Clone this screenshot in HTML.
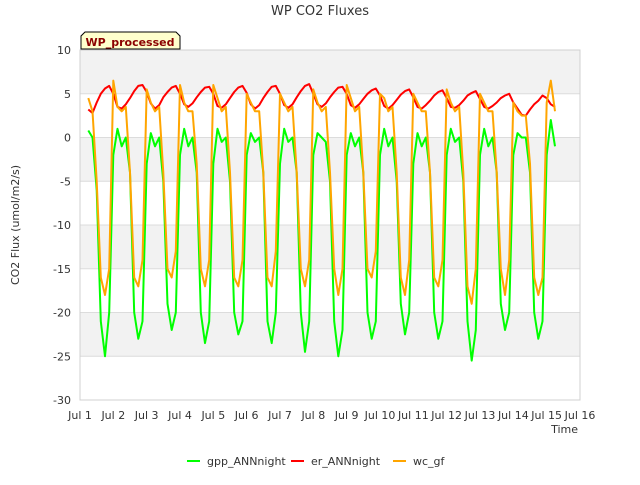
<!DOCTYPE html>
<html><head><meta charset="utf-8"><style>
body{margin:0;background:#fff;font-family:"Liberation Sans","DejaVu Sans",sans-serif;}
</style></head><body>
<svg id="chart" width="640" height="480" xmlns="http://www.w3.org/2000/svg" font-family="DejaVu Sans, Liberation Sans, sans-serif">
<rect width="640" height="480" fill="#fff"/>
<g id="bands"></g><g id="grid"></g><g id="series"></g><g id="axes"></g>
<text x="320" y="15" text-anchor="middle" font-size="13" fill="#333">WP CO2 Fluxes</text>
<text transform="translate(19,225) rotate(-90)" text-anchor="middle" font-size="11" fill="#333">CO2 Flux (umol/m2/s)</text>
<text x="578" y="433" text-anchor="end" font-size="11" fill="#333">Time</text>
<g>
<path d="M81,49 L81,36 L85,32 L176,32 L180,36 L180,49 Z" fill="#ffffcc" stroke="#000" stroke-width="1"/>
<text x="130" y="46" text-anchor="middle" font-size="11" font-weight="bold" fill="#8b0000">WP_processed</text>
</g>
<g>
<g><line x1="187" y1="461" x2="200" y2="461" stroke="#00ff00" stroke-width="2"/><text x="207" y="465" font-size="11" fill="#333">gpp_ANNnight</text></g>
<g><line x1="291" y1="461" x2="304" y2="461" stroke="#ff0000" stroke-width="2"/><text x="311" y="465" font-size="11" fill="#333">er_ANNnight</text></g>
<g><line x1="393" y1="461" x2="406" y2="461" stroke="#ffa500" stroke-width="2"/><text x="413" y="465" font-size="11" fill="#333">wc_gf</text></g>
</g>
</svg>
<script>
const startDay = 1.25;
const stepDay = 0.125;
const gpp = [
0.8,0,-6,-21,-25,-20,-2,1,
-1,0,-4,-20,-23,-21,-3,0.5,
-1,0,-5,-19,-22,-20,-2,1,
-1,0,-4,-20,-23.5,-21,-3,1,
-0.5,0,-5,-20,-22.5,-21,-2,0.5,
-0.5,0,-4,-21,-23.5,-20,-3,1,
-0.5,0,-4,-20,-24.5,-21,-2,0.5,
0,-0.5,-5,-21,-25,-22,-2,0.5,
-1,0,-4,-20,-23,-21,-2,1,
-1,0,-5,-19,-22.5,-20,-3,0.5,
-1,0,-4,-20,-23,-21,-2,1,
-0.5,0,-5,-21,-25.5,-22,-2,1,
-1,0,-4,-19,-22,-20,-2,0.5,
0,0,-4,-20,-23,-21,-2,2,
-1
];
const er = [
3.2,2.8,4.0,5.0,5.6,5.9,5.0,3.5,
3.3,3.8,4.5,5.3,5.9,6.0,5.2,3.9,
3.3,3.7,4.6,5.2,5.7,5.9,5.0,3.8,
3.5,3.9,4.6,5.2,5.7,5.8,5.0,3.6,
3.4,3.8,4.5,5.2,5.7,5.9,5.1,3.8,
3.3,3.7,4.5,5.2,5.8,5.9,5.0,3.7,
3.4,3.8,4.6,5.3,5.9,6.1,5.0,3.8,
3.5,3.9,4.6,5.2,5.7,5.8,5.0,3.7,
3.4,3.8,4.4,5.0,5.4,5.6,4.8,3.6,
3.3,3.7,4.3,4.9,5.3,5.5,4.6,3.5,
3.3,3.7,4.2,4.8,5.2,5.4,4.5,3.5,
3.4,3.7,4.2,4.8,5.1,5.3,4.4,3.5,
3.3,3.6,4.0,4.5,4.8,5.0,4.0,3.3,
2.6,2.5,3.2,3.8,4.2,4.8,4.5,3.8,
3.5
];
const wc = [
4.5,3,-5,-16,-18,-15,6.5,3.5,
3,3.5,-4,-16,-17,-14,5.5,4,
3,3.5,-4,-15,-16,-13,6,4,
3,3,-3,-15,-17,-14,6,4.5,
3,3.5,-4,-16,-17,-14,5,4,
3,3,-4,-16,-17,-13,5,4,
3,3.5,-4,-15,-17,-14,5.5,4,
3,3.5,-4,-15,-18,-15,6,4.5,
3,3.5,-4,-15,-16,-13,5,4.5,
3,3.5,-4,-16,-18,-14,5,4,
3,3,-4,-16,-17,-14,5.5,4,
3,3.5,-4,-17,-19,-15,5,4,
3,3,-4,-15,-18,-14,4,3,
2.5,2.5,-3,-16,-18,-16,4,6.5,
3
];
const yTicks = [10,5,0,-5,-10,-15,-20,-25,-30];
const xTickLabels = ["Jul 1","Jul 2","Jul 3","Jul 4","Jul 5","Jul 6","Jul 7","Jul 8","Jul 9","Jul 10","Jul 11","Jul 12","Jul 13","Jul 14","Jul 15","Jul 16"];
const L=80,R=580,T=50,B=400,xMin=1,xMax=16,yMin=-30,yMax=10;
const xs=d=>L+(d-xMin)/(xMax-xMin)*(R-L);
const ys=v=>B-(v-yMin)/(yMax-yMin)*(B-T);
const NS="http://www.w3.org/2000/svg";
function mk(tag,attrs,parent){const e=document.createElementNS(NS,tag);for(const k in attrs)e.setAttribute(k,attrs[k]);parent.appendChild(e);return e;}
const bands=document.getElementById('bands'),grid=document.getElementById('grid'),axes=document.getElementById('axes'),series=document.getElementById('series');
mk('rect',{x:L,y:T,width:R-L,height:B-T,fill:'#fff'},bands);
for(let v=yMax;v>yMin;v-=10){const r=mk('rect',{x:L,y:ys(v),width:R-L,height:ys(v-5)-ys(v),fill:'#f2f2f2'},bands);

}
yTicks.forEach(v=>{const l=mk('line',{x1:L,x2:R,y1:ys(v),y2:ys(v),stroke:'#dcdcdc','stroke-width':1},grid);


const t=mk('text',{x:L-9,y:ys(v)+4,'text-anchor':'end','font-size':11,fill:'#333'},axes);t.textContent=v;

});
const fr=mk('rect',{x:L,y:T,width:R-L,height:B-T,fill:'none',stroke:'#d0d0d0'},axes);


xTickLabels.forEach((s,i)=>{const t=mk('text',{x:xs(xMin+i),y:B+19,'text-anchor':'middle','font-size':11,fill:'#333'},axes);t.textContent=s;

});
function draw(arr,color,name){const pts=arr.map((v,i)=>xs(startDay+i*stepDay).toFixed(1)+','+ys(v).toFixed(1)).join(' ');
const p=mk('polyline',{points:pts,fill:'none',stroke:color,'stroke-width':2,'stroke-linejoin':'round'},series);

}
draw(gpp,'#00ff00','gpp-annnight-line');
draw(er,'#ff0000','er-annnight-line');
draw(wc,'#ffa500','wc-gf-line');
</script>
</body></html>
